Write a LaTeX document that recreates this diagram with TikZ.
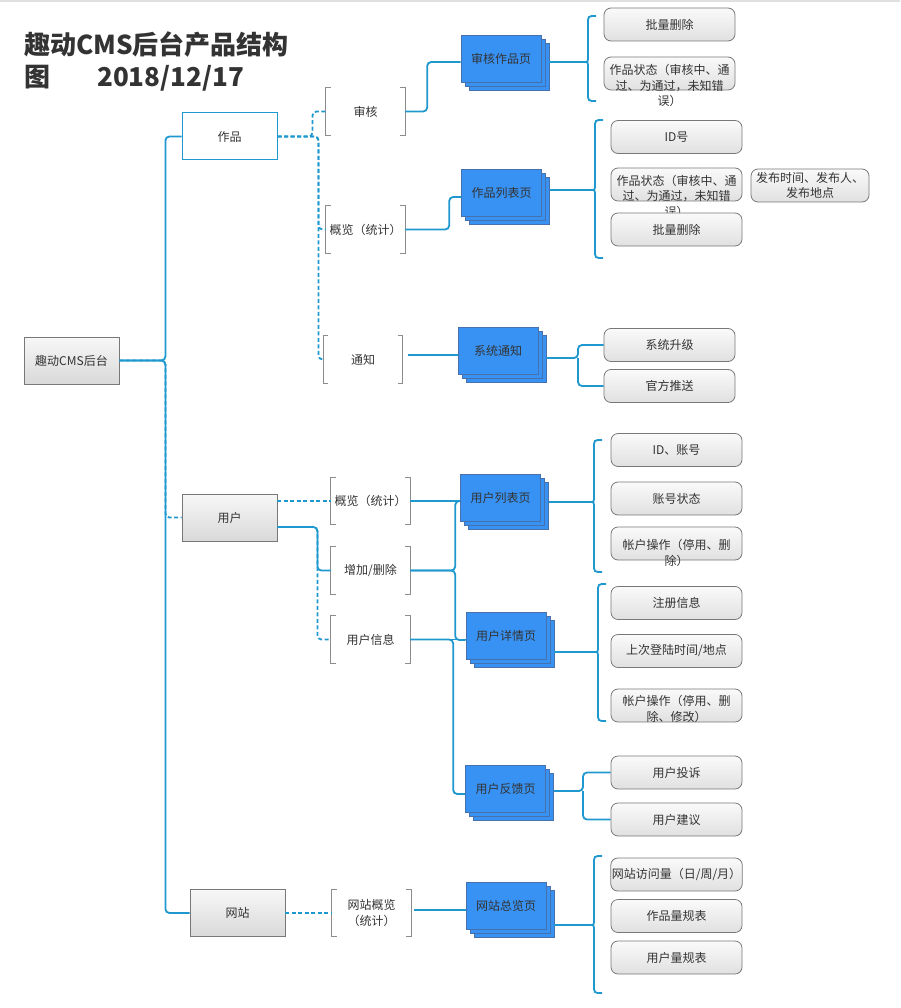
\documentclass[tikz,border=0pt]{standalone}
\usepackage{fontspec}
\setmainfont{Noto Sans CJK SC}
\usetikzlibrary{shadows,calc}

\definecolor{linkblue}{RGB}{30,152,206}
\definecolor{pageblue}{RGB}{56,146,243}
\definecolor{pageedge}{RGB}{72,112,170}
\definecolor{boxedge}{RGB}{120,120,120}
\definecolor{textgrey}{RGB}{51,51,51}

\tikzset{
  conn/.style={draw=linkblue, line width=1.8pt},
  dconn/.style={draw=linkblue, line width=1.8pt, dash pattern=on 4pt off 2.5pt},
  elbow/.style={rounded corners=4pt},
  greybox/.style={draw=boxedge, line width=.8pt, top color=black!3, bottom color=black!15,
    minimum width=95pt, minimum height=47pt, inner sep=1pt, text=textgrey,
    font=\fontsize{12}{15}\selectfont},
  plainbox/.style={draw=linkblue, line width=1pt, fill=white,
    minimum width=95pt, minimum height=47pt, inner sep=1pt, text=textgrey,
    font=\fontsize{12}{15}\selectfont},
  brnode/.style={minimum width=79pt, minimum height=47pt, inner sep=1pt, align=center,
    text=textgrey, font=\fontsize{12}{16}\selectfont},
  brk/.style={draw=black!45, line width=.8pt},
  pagenode/.style={fill=pageblue, draw=pageedge, line width=.8pt,
    minimum width=80pt, minimum height=47pt, inner sep=1pt, text=textgrey,
    font=\fontsize{12}{15}\selectfont,
    copy shadow={shadow xshift=8pt, shadow yshift=-8pt, fill=pageblue, draw=pageedge},
    copy shadow={shadow xshift=4pt, shadow yshift=-4pt, fill=pageblue, draw=pageedge}},
  leafbox/.style={draw=boxedge, line width=.8pt, rounded corners=7pt,
    top color=black!2, bottom color=black!12, minimum width=131pt, minimum height=33pt,
    inner sep=1pt, align=center, text=textgrey, font=\fontsize{12}{15}\selectfont},
  leaftext/.style={inner sep=0pt, align=center, text=textgrey, font=\fontsize{12}{15.5}\selectfont}
}

% curly brace in front of a group of leaves: name, x, top, cusp, bottom
\newcommand{\leafbrace}[5]{%
  \coordinate (#1) at (#2-4,#4);
  \draw[conn] (#2+8,#3) .. controls (#2,#3) .. (#2,#3+8) -- (#2,#4-6)
    .. controls (#2,#4) .. (#2-4,#4) .. controls (#2,#4) .. (#2,#4+6)
    -- (#2,#5-8) .. controls (#2,#5) .. (#2+8,#5);}

\begin{document}
\begin{tikzpicture}[x=1pt, y=-1pt]

    \useasboundingbox (0,0) rectangle (900,1008);
    \draw[black!12, line width=2pt] (0,1) -- (900,1);

    % Title
    \node[anchor=north west, align=left, inner sep=0pt, text=black!80,
      font=\fontsize{26}{32}\selectfont\bfseries] (title) at (24,31)
      {趣动CMS后台产品结构\\图\hspace{47pt}2018/12/17};

    % Root and first level
    \node[greybox] (root) at (71.5,360.5) {趣动CMS后台};
    \node[plainbox] (zp) at (229.5,136.5) {作品};
    \node[greybox] (yh) at (229.5,517.5) {用户};
    \node[greybox] (wz) at (237.5,913) {网站};

    % Second level (bracketed)
    \node[brnode] (sh) at (365.5,111.5) {审核};
    \node[brnode] (gl1) at (365.5,229.5) {概览（统计）};
    \node[brnode] (tz) at (363,359.5) {通知};
    \node[brnode] (gl2) at (370.5,501) {概览（统计）};
    \node[brnode] (add) at (370.5,570.5) {增加/删除};
    \node[brnode] (uinfo) at (370.5,639.5) {用户信息};
    \node[brnode] (wgl) at (371.5,913) {网站概览\\（统计）};

    \foreach \n in {sh,gl1,tz,gl2,add,uinfo,wgl} {
      \draw[brk] ($(\n.north west)+(5,0)$) -- (\n.north west) -- (\n.south west) -- ($(\n.south west)+(5,0)$);
      \draw[brk] ($(\n.north east)+(-5,0)$) -- (\n.north east) -- (\n.south east) -- ($(\n.south east)+(-5,0)$);
    }

    % Pages
    \node[pagenode] (p1) at (501,59) {审核作品页};
    \node[pagenode] (p2) at (501.5,193) {作品列表页};
    \node[pagenode] (p3) at (498,351) {系统通知};
    \node[pagenode] (p4) at (500.5,497.5) {用户列表页};
    \node[pagenode] (p5) at (506,636) {用户详情页};
    \node[pagenode] (p6) at (505.5,789) {用户反馈页};
    \node[pagenode] (p7) at (506,906) {网站总览页};

    % Leaves
    \node[leafbox] (s11) at (669.5,24.5) {批量删除};
    \node[leafbox] (s12) at (669.5,73.5) {};
    \node[leaftext] (s12t) at ($(s12)+(0,12)$) {作品状态（审核中、通\\过、为通过，未知错\\误）};

    \node[leafbox] (s21) at (676.5,137) {ID号};
    \node[leafbox] (s22) at (676.5,184.5) {};
    \node[leaftext] (s22t) at ($(s22)+(0,11.5)$) {作品状态（审核中、通\\过、为通过，未知错\\误）};
    \node[leafbox, minimum width=118pt] (s23) at (810,185.5) {发布时间、发布人、\\发布地点};
    \node[leafbox] (s24) at (676.5,229.5) {批量删除};

    \node[leafbox] (s31) at (669.5,345) {系统升级};
    \node[leafbox] (s32) at (669.5,386) {官方推送};

    \node[leafbox] (s41) at (676.5,450) {ID、账号};
    \node[leafbox] (s42) at (676.5,498.5) {账号状态};
    \node[leafbox] (s43) at (676.5,543.5) {};
    \node[leaftext] (s43t) at ($(s43)+(0,9.5)$) {帐户操作（停用、删\\除）};

    \node[leafbox] (s51) at (676.5,603) {注册信息};
    \node[leafbox] (s52) at (676.5,651) {上次登陆时间/地点};
    \node[leafbox] (s53) at (676.5,705.5) {};
    \node[leaftext] (s53t) at ($(s53)+(0,3.5)$) {帐户操作（停用、删\\除、修改）};

    \node[leafbox] (s61) at (676.5,772.5) {用户投诉};
    \node[leafbox] (s62) at (676.5,819.5) {用户建议};

    \node[leafbox] (s71) at (676.5,874.5) {网站访问量（日/周/月）};
    \node[leafbox] (s72) at (676.5,916) {作品量规表};
    \node[leafbox] (s73) at (676.5,957.5) {用户量规表};

    % Root to first level
    \draw[conn, elbow] (root.east) -- ++(46,0) |- (zp.west);
    \draw[conn, elbow] (root.east) -- ++(46,0) |- (wz.west);
    \draw[dconn, elbow] (root.east) -- ++(46,0) |- (yh.west);

    % First to second level
    \draw[dconn, elbow] (zp.east) -- ++(35,0) |- (sh.west);
    \draw[dconn, elbow] (zp.east) -- ++(41,0) |- (gl1.west);
    \draw[dconn, elbow] (zp.east) -- ++(41,0) |- (tz.west);

    \coordinate (e2) at (gl2.west);
    \draw[dconn] (yh.east |- e2) -- (e2);
    \draw[dconn, elbow] ($(yh.east)+(0,9.5)$) -- ++(40,0) |- (uinfo.west);
    \draw[conn, elbow] ($(yh.east)+(0,9.5)$) -- ++(40,0) |- (add.west);

    \coordinate (e7) at (wgl.west);
    \draw[dconn] (wz.east |- e7) -- (e7);

    % Second level to pages
    \draw[conn, elbow] (sh.east) -- ++(22,0) |- ($(p1.west)+(0,3)$);
    \draw[conn, elbow] (gl1.east) -- ++(44,0) |- ($(p2.west)+(0,4)$);
    \coordinate (e3) at ($(p3.west)+(0,4)$);
    \draw[conn] ($(tz.east |- e3)+(5,0)$) -- (e3);

    \coordinate (e4) at (gl2.east -| p4.west);
    \draw[conn] (gl2.east |- e4) -- (e4);
    \draw[conn, elbow] (add.east) -- ++(45,0) |- (e4);
    \draw[conn, elbow] (add.east) -- ++(45,0) |- ($(p5.west)+(0,4)$);
    \draw[conn] ($(uinfo.east)+(3,0)$) -- (uinfo.east -| p5.west);
    \draw[conn, elbow] (uinfo.east) -- ++(43,0) |- ($(p6.west)+(0,5)$);

    \draw[conn] ($(wgl.east)+(3,-3)$) -- ($(p7.west)+(0,4)$);

    % Pages to leaves
    \leafbrace{b1}{588}{16}{62}{101}
    \draw[conn] ($(p1.east |- b1)+(8,0)$) -- (b1);

    \leafbrace{b2}{595}{120}{190}{258}
    \draw[conn] ($(p2.east |- b2)+(8,0)$) -- (b2);

    \coordinate (f3) at (578,358);
    \draw[conn, elbow] ($(p3.east |- f3)+(8,0)$) -- (f3) |- (s31.west);
    \draw[conn, elbow] (f3) |- (s32.west);

    \leafbrace{b4}{594}{440}{502}{572}
    \draw[conn] ($(p4.east |- b4)+(8,0)$) -- (b4);

    \leafbrace{b5}{598}{584}{652}{721}
    \draw[conn] ($(p5.east |- b5)+(8,0)$) -- (b5);

    \coordinate (f6) at (583,791);
    \draw[conn, elbow] ($(p6.east |- f6)+(8,0)$) -- (f6) |- (s61.west);
    \draw[conn, elbow] (f6) |- (s62.west);

    \leafbrace{b7}{594}{856}{925}{993}
    \draw[conn] ($(p7.east |- b7)+(8,0)$) -- (b7);

\end{tikzpicture}
\end{document}
